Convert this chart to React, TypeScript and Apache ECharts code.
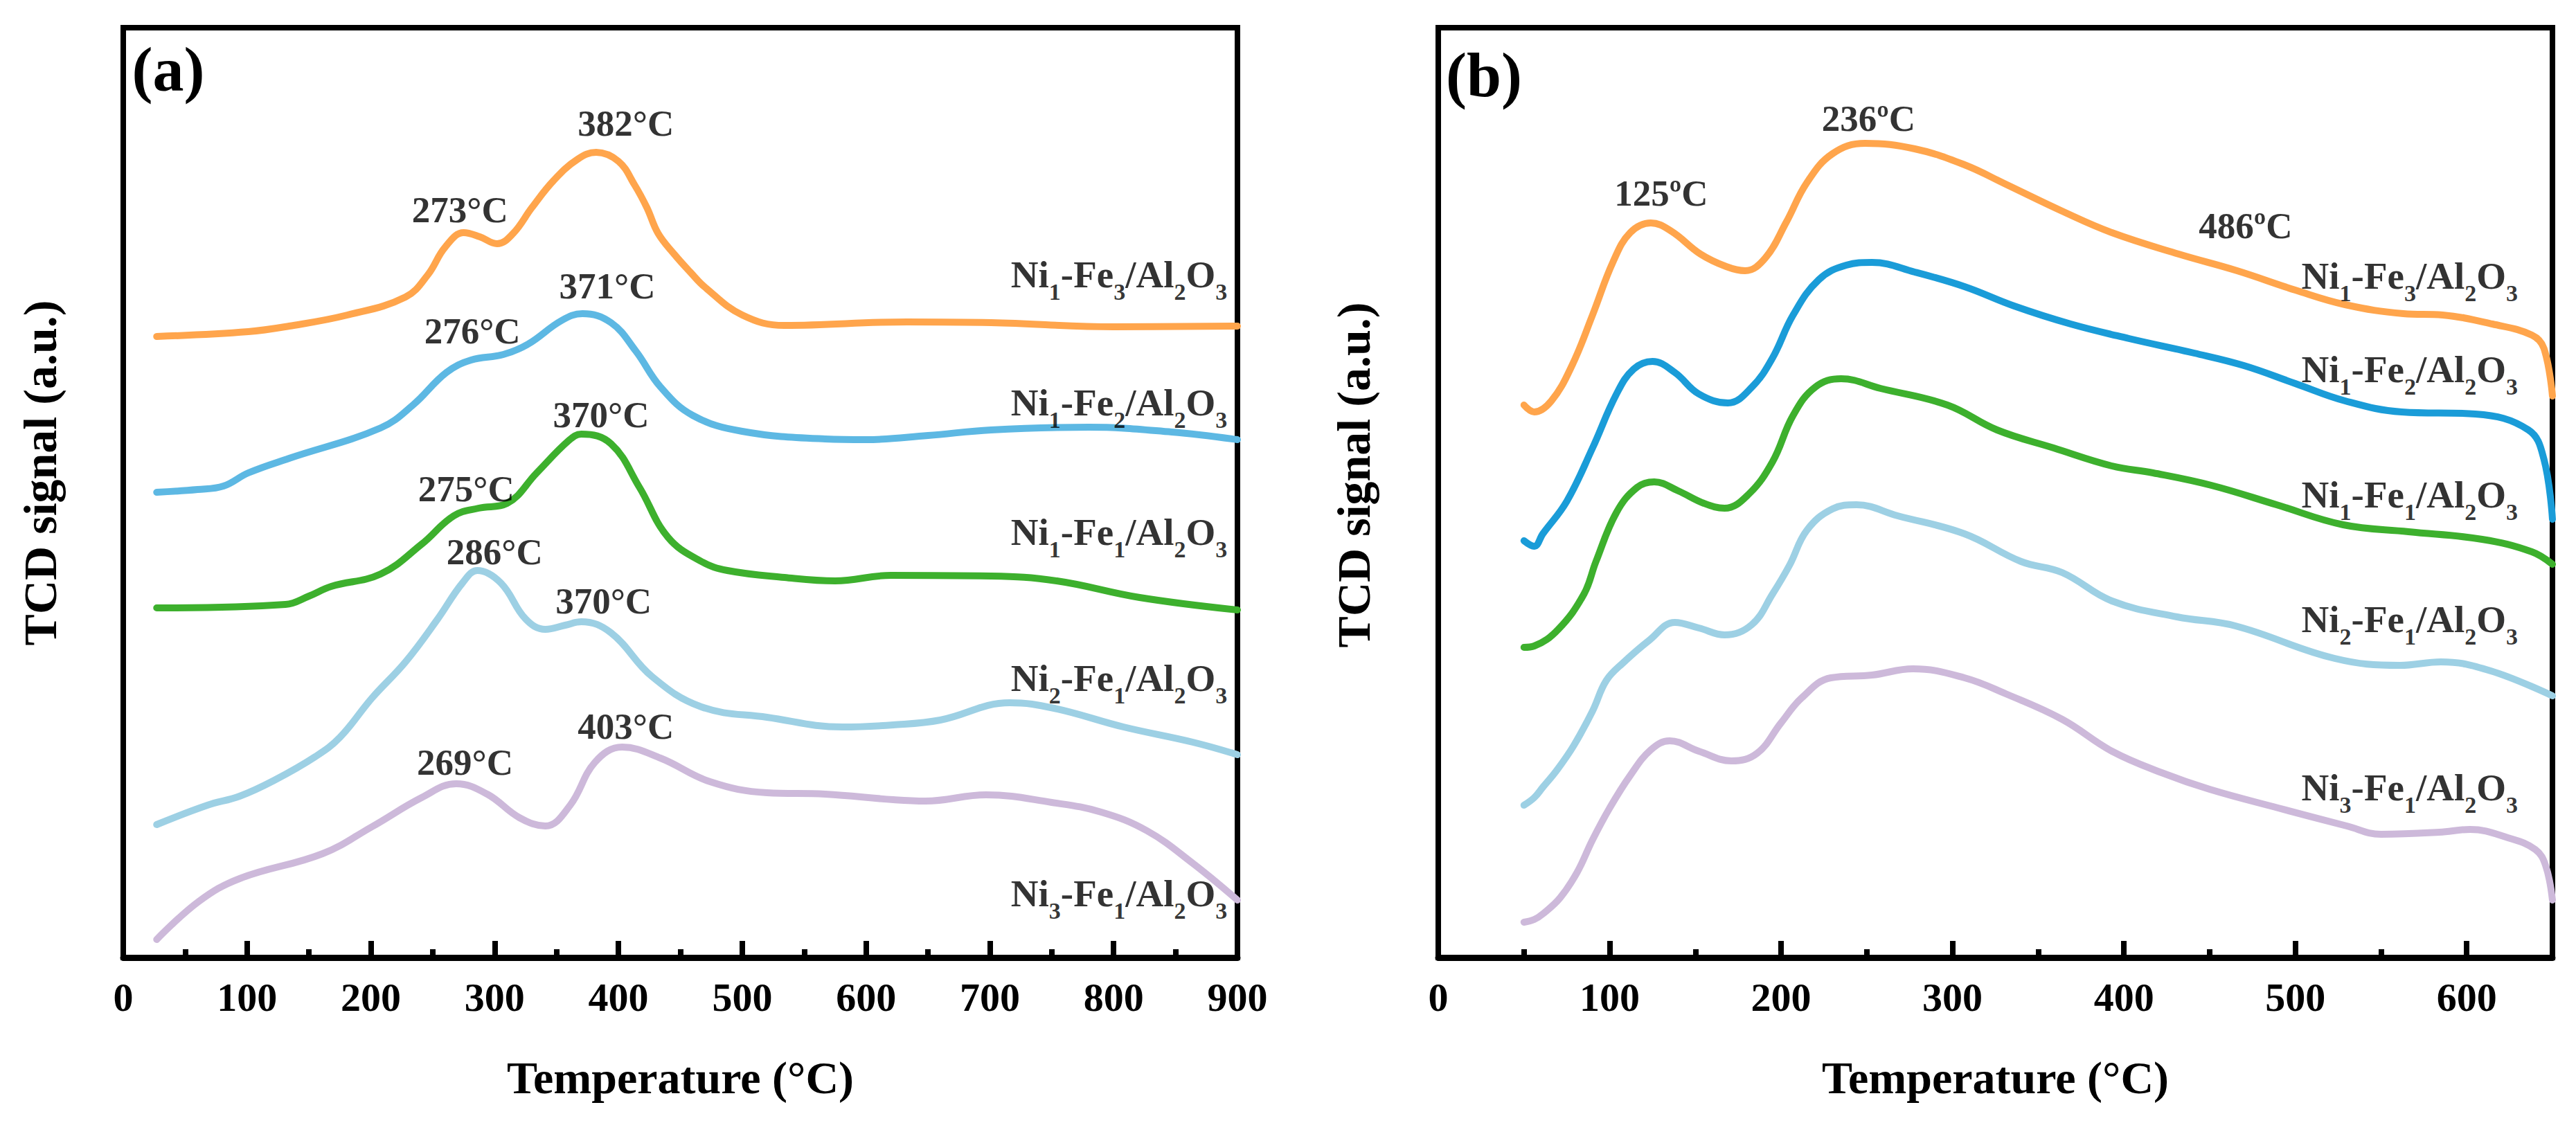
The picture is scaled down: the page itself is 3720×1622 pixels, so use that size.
import React, { useEffect, useRef } from "react";
import * as echarts from "echarts";

const W = 3720;
const H = 1622;
const FONT = "'Liberation Serif', 'Times New Roman', Times, serif";

// ---------- Panel (a): H2-TPR, temperature (°C) vs TCD signal (a.u.) ----------
const aNi1Fe3: number[][] = [[27,897],[101,904],[134,912],[181,928],[228,954],[246,986],[260,1026],[275,1047],[288,1041],[302,1031],[315,1046],[330,1083],[348,1123],[367,1153],[382,1163],[400,1150],[413,1116],[423,1083],[432,1046],[445,1016],[458,990],[470,968],[500,928],[534,913],[633,918],[701,917],[800,911],[900,912]];
const aNi1Fe2: number[][] = [[27,672],[60,676],[81,681],[101,700],[134,721],[208,765],[234,798],[261,845],[281,863],[307,871],[327,886],[354,920],[371,930],[394,917],[414,876],[434,824],[460,783],[500,760],[567,749],[600,748],[650,754],[701,762],[780,766],[847,759],[900,748]];
const aNi1Fe1: number[][] = [[27,505],[131,510],[150,522],[168,536],[208,554],[241,597],[267,638],[287,649],[310,656],[334,700],[360,747],[370,756],[394,742],[417,679],[440,607],[467,572],[488,559],[534,549],[575,544],[620,552],[701,551],[754,544],[821,520],[900,502]];
const aNi2Fe1: number[][] = [[27,192],[68,220],[94,233],[122,256],[155,290],[175,318],[201,375],[228,427],[254,489],[274,541],[286,559],[305,541],[325,489],[341,474],[357,480],[370,485],[394,469],[427,406],[467,362],[520,347],[581,333],[622,336],[660,343],[716,368],[752,360],[808,333],[864,311],[900,293]];
const aNi3Fe1: number[][] = [[27,26],[61,81],[94,114],[161,150],[201,189],[241,231],[269,251],[294,236],[320,202],[341,190],[361,220],[381,282],[403,304],[434,288],[474,254],[520,238],[567,236],[622,228],[648,226],[697,235],[750,224],[790,210],[827,183],[864,136],[900,83]];

// ---------- Panel (b) ----------
const bNi1Fe3: number[][] = [[50,798],[56,788],[66,804],[78,855],[90,928],[102,1005],[112,1047],[124,1061],[136,1049],[153,1016],[168,998],[179,992],[191,1011],[203,1062],[215,1119],[230,1161],[249,1176],[278,1168],[307,1145],[331,1117],[364,1078],[393,1047],[432,1016],[466,992],[500,964],[529,943],[563,930],[586,928],[615,915],[638,899],[645,880],[650,811]];
const bNi1Fe2: number[][] = [[50,602],[56,594],[61,612],[75,659],[90,736],[104,814],[114,850],[125,861],[138,845],[152,814],[169,801],[183,824],[195,866],[207,928],[222,979],[238,1000],[253,1004],[278,990],[307,969],[336,941],[369,915],[403,894],[441,873],[470,855],[500,829],[529,804],[562,788],[605,785],[636,762],[645,720],[650,633]];
const bNi1Fe1: number[][] = [[50,448],[56,450],[70,474],[85,525],[92,572],[104,643],[116,679],[126,687],[140,674],[155,656],[167,649],[181,669],[195,716],[207,783],[220,824],[235,836],[258,822],[297,798],[326,762],[359,736],[393,710],[417,700],[451,682],[489,654],[528,625],[566,615],[609,604],[638,586],[650,568]];
const bNi2Fe1: number[][] = [[50,220],[56,231],[61,246],[69,270],[79,306],[90,356],[98,400],[108,426],[123,458],[138,484],[152,476],[167,466],[183,481],[195,525],[205,567],[215,617],[230,648],[244,654],[268,638],[307,612],[340,572],[364,556],[393,515],[431,492],[465,479],[523,432],[561,422],[585,427],[614,414],[650,378]];
const bNi3Fe1: number[][] = [[50,51],[56,55],[61,63],[71,86],[81,123],[90,170],[100,216],[112,263],[124,300],[135,313],[152,298],[171,284],[186,295],[200,339],[212,375],[229,404],[253,408],[277,417],[307,404],[331,381],[364,344],[393,298],[422,267],[450,243],[490,216],[530,190],[550,178],[584,181],[602,185],[624,173],[640,156],[646,133],[650,83]];

const sampleNames = ["Ni1-Fe3/Al2O3", "Ni1-Fe2/Al2O3", "Ni1-Fe1/Al2O3", "Ni2-Fe1/Al2O3", "Ni3-Fe1/Al2O3"];
const colorsA = ["#FFA54C", "#5DB8E3", "#3DB02D", "#9DD0E4", "#CDB9DA"];
const colorsB = ["#FFA54C", "#1A9CD8", "#3DB02D", "#9DD0E4", "#CDB9DA"];
const seriesA = [aNi1Fe3, aNi1Fe2, aNi1Fe1, aNi2Fe1, aNi3Fe1];
const seriesB = [bNi1Fe3, bNi1Fe2, bNi1Fe1, bNi2Fe1, bNi3Fe1];

// peak annotations: [text, temperature anchor, signal anchor]
const peaksA: [string, number, number][] = [["382°C",406,1205],["273°C",272,1080],["371°C",391,970],["276°C",282,905],["370°C",386,784],["275°C",277,677],["286°C",300,586],["370°C",388,515],["403°C",406,334],["269°C",276,282]];
const peaksB: [string, number, number][] = [["236ºC",251,1212],["125ºC",130,1104],["486ºC",471,1057]];

// sample-name anchors (right end of text)
const nameXA = 892;
const nameYA = [987, 802, 615, 404, 93];
const nameXB = 630;
const nameYB = [985, 850, 669, 489, 246];

const xMaxA = 900;
const xMaxB = 650;
const yMax = 1343;

function toRich(name: string): string {
  const s = "{m|" + name.replace(/(\d+)/g, "}{s|$1}{m|") + "}";
  return s.replace(/\{m\|\}/g, "");
}

const GRID_A = { left: 178, top: 40, width: 1609, height: 1343 };
const GRID_B = { left: 2077, top: 40, width: 1609, height: 1343 };

function majorX(gridIndex: number, max: number, showMax: boolean, title: string) {
  return {
    type: "value",
    gridIndex,
    min: 0,
    max,
    interval: 100,
    position: "bottom",
    axisLine: { show: true, lineStyle: { color: "#000", width: 9 } },
    axisTick: { show: true, inside: true, length: 24, lineStyle: { color: "#000", width: 8 } },
    axisLabel: {
      show: true,
      showMaxLabel: showMax,
      margin: 28,
      fontSize: 58,
      fontWeight: "bold",
      fontFamily: FONT,
      color: "#000",
    },
    splitLine: { show: false },
    name: title,
    nameLocation: "middle",
    nameGap: 140,
    nameTextStyle: { fontSize: 66, fontWeight: "bold", fontFamily: FONT, color: "#000" },
  };
}

function minorX(gridIndex: number, max: number) {
  return {
    type: "value",
    gridIndex,
    min: 0,
    max,
    interval: 50,
    position: "bottom",
    axisLine: { show: false },
    axisTick: { show: true, inside: true, length: 12, lineStyle: { color: "#000", width: 8 } },
    axisLabel: { show: false },
    splitLine: { show: false },
  };
}

function hiddenY(gridIndex: number) {
  return {
    type: "value",
    gridIndex,
    min: 0,
    max: yMax,
    show: false,
    splitLine: { show: false },
  };
}

const richStyles = {
  m: { fontSize: 55, fontWeight: "bold", fontFamily: FONT, color: "#000", lineHeight: 84 },
  s: { fontSize: 34, fontWeight: "bold", fontFamily: FONT, color: "#000", lineHeight: 34, padding: [50, 0, 0, 0] },
};

function buildLines(data: number[][][], colors: string[], axisIndex: number) {
  return data.map((d, i) => ({
    type: "line",
    name: sampleNames[i] + (axisIndex === 0 ? " (a)" : " (b)"),
    xAxisIndex: axisIndex,
    yAxisIndex: axisIndex,
    data: d,
    showSymbol: false,
    symbol: "none",
    smooth: 0.4,
    lineStyle: { color: colors[i], width: 10, cap: "round", join: "round" },
    silent: true,
    z: 3,
  }));
}

function peakSeries(peaks: [string, number, number][], axisIndex: number) {
  return {
    type: "scatter",
    xAxisIndex: axisIndex,
    yAxisIndex: axisIndex,
    symbol: "circle",
    symbolSize: 1,
    itemStyle: { color: "rgba(0,0,0,0)" },
    silent: true,
    z: 10,
    data: peaks.map((p) => ({ value: [p[1], p[2]], text: p[0] })),
    label: {
      show: true,
      position: "inside",
      formatter: (p: any) => p.data.text,
      fontSize: 53,
      fontWeight: "bold",
      fontFamily: FONT,
      color: "#000",
    },
  };
}

function nameSeries(x: number, ys: number[], axisIndex: number) {
  return {
    type: "scatter",
    xAxisIndex: axisIndex,
    yAxisIndex: axisIndex,
    symbol: "circle",
    symbolSize: 1,
    itemStyle: { color: "rgba(0,0,0,0)" },
    silent: true,
    z: 10,
    data: ys.map((y, i) => ({ value: [x, y], text: toRich(sampleNames[i]) })),
    label: {
      show: true,
      position: "left",
      distance: 0,
      formatter: (p: any) => p.data.text,
      rich: richStyles,
    },
  };
}

function yTitle(x: number, y: number) {
  return {
    type: "text",
    x,
    y,
    rotation: Math.PI / 2,
    silent: true,
    style: {
      text: "TCD signal (a.u.)",
      fontSize: 68,
      fontWeight: "bold",
      fontFamily: FONT,
      fill: "#000",
      align: "center",
      verticalAlign: "middle",
    },
  };
}

function panelTag(text: string, x: number, y: number) {
  return {
    type: "text",
    x,
    y,
    silent: true,
    style: {
      text,
      fontSize: 90,
      fontWeight: "bold",
      fontFamily: FONT,
      fill: "#000",
      align: "center",
      verticalAlign: "middle",
    },
  };
}

export default function App() {
  const ref = useRef<HTMLDivElement>(null);
  useEffect(() => {
    if (!ref.current) return;
    const chart = echarts.init(ref.current, undefined, { renderer: "svg", width: W, height: H });
    const option: any = {
      animation: false,
      backgroundColor: "#fff",
      textStyle: { fontFamily: FONT },
      grid: [
        { ...GRID_A, show: true, borderColor: "#000", borderWidth: 8, backgroundColor: "transparent", containLabel: false },
        { ...GRID_A, show: false, containLabel: false },
        { ...GRID_B, show: true, borderColor: "#000", borderWidth: 8, backgroundColor: "transparent", containLabel: false },
        { ...GRID_B, show: false, containLabel: false },
      ],
      xAxis: [
        majorX(0, xMaxA, true, "Temperature (°C)"),
        minorX(1, xMaxA),
        majorX(2, xMaxB, false, "Temperature (°C)"),
        minorX(3, xMaxB),
      ],
      yAxis: [hiddenY(0), hiddenY(1), hiddenY(2), hiddenY(3)],
      series: [
        ...buildLines(seriesA, colorsA, 0),
        ...buildLines(seriesB, colorsB, 2),
        peakSeries(peaksA, 0),
        peakSeries(peaksB, 2),
        nameSeries(nameXA, nameYA, 0),
        nameSeries(nameXB, nameYB, 2),
      ],
      graphic: [
        yTitle(58, 683),
        yTitle(1955, 686),
        panelTag("(a)", 243, 100),
        panelTag("(b)", 2143, 108),
      ],
    };
    chart.setOption(option);
    return () => chart.dispose();
  }, []);
  return (
    <div
      ref={ref}
      style={{ position: "absolute", left: 0, top: 0, width: W, height: H, background: "#fff" }}
    />
  );
}
